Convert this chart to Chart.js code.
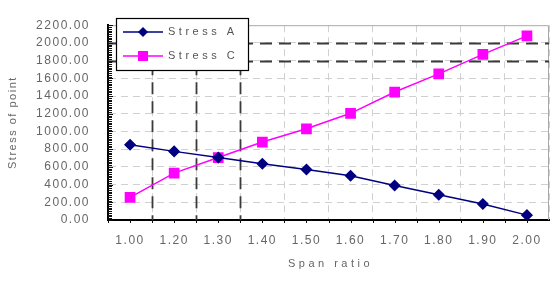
<!DOCTYPE html>
<html>
<head>
<meta charset="utf-8">
<script src="https://cdn.jsdelivr.net/npm/chart.js@4"></script>
<style>
  html, body { margin: 0; padding: 0; background: #fff; }
  #wrap { width: 559px; height: 291px; }
</style>
</head>
<body>
<div id="wrap"><canvas id="stressChart" width="559" height="291"></canvas></div>
<script>
// values
var spanLabels = ['1.00', '1.20', '1.30', '1.40', '1.50', '1.60', '1.70', '1.80', '1.90', '2.00'];
var stressA = [850, 775, 705, 635, 570, 500, 390, 285, 180, 55];
var stressC = [255, 530, 705, 880, 1030, 1205, 1445, 1650, 1870, 2080];
var refLevels = [2000, 1800];      // black dashed horizontal lines
var refGaps = [1, 2, 3];           // black dashed verticals, between category i-1 and i

var FONT = '"Liberation Sans", Arial, sans-serif';

// dashed reference lines, frame, small ticks (drawn under the data)
var framePlugin = {
  id: 'frame',
  beforeLayout: function (chart) {
    chart.ctx.letterSpacing = '1.5px';
  },
  beforeDatasetsDraw: function (chart) {
    var ctx = chart.ctx;
    var a = chart.chartArea;
    var x = chart.scales.x;
    var y = chart.scales.y;
    ctx.save();

    // gray top / right frame
    ctx.strokeStyle = '#a8a8a8';
    ctx.lineWidth = 1;
    ctx.beginPath();
    ctx.moveTo(a.left, a.top + 0.5);
    ctx.lineTo(a.right - 0.5, a.top + 0.5);
    ctx.lineTo(a.right - 0.5, a.bottom);
    ctx.stroke();

    // black dashed lines
    ctx.strokeStyle = '#3a3a3a';
    ctx.lineWidth = 1.8;
    ctx.setLineDash([12, 7]);
    refLevels.forEach(function (v) {
      var py = Math.round(y.getPixelForValue(v)) + 0.5;
      ctx.beginPath();
      ctx.moveTo(a.left, py);
      ctx.lineTo(a.right, py);
      ctx.stroke();
    });
    refGaps.forEach(function (i) {
      var px = Math.round((x.getPixelForValue(i - 1) + x.getPixelForValue(i)) / 2) + 0.5;
      ctx.beginPath();
      ctx.moveTo(px, a.top);
      ctx.lineTo(px, a.bottom);
      ctx.stroke();
    });
    ctx.setLineDash([]);

    // dense inward ticks on the value axis
    ctx.strokeStyle = '#111';
    ctx.lineWidth = 1;
    for (var v = 0; v <= 2200; v += 20) {
      var ty = Math.round(y.getPixelForValue(v)) + 0.5;
      var len = (v % 200 === 0) ? 5 : 4;
      ctx.beginPath();
      ctx.moveTo(a.left, ty);
      ctx.lineTo(a.left + len, ty);
      ctx.stroke();
    }
    // ticks under the category axis, at centres and boundaries
    var half = (x.getPixelForValue(1) - x.getPixelForValue(0)) / 2;
    for (var i = 0; i < spanLabels.length; i++) {
      var cx = x.getPixelForValue(i);
      [cx - half, cx].forEach(function (tx) {
        tx = Math.round(tx) + 0.5;
        ctx.beginPath();
        ctx.moveTo(tx, a.bottom);
        ctx.lineTo(tx, a.bottom + 3);
        ctx.stroke();
      });
    }
    ctx.restore();
  },
  afterDatasetsDraw: function (chart) {
    var ctx = chart.ctx;
    var a = chart.chartArea;
    ctx.save();

    // legend box inside the plot
    var bx = 116, by = 18, bw = 132, bh = 52;
    ctx.fillStyle = '#fff';
    ctx.fillRect(bx, by, bw, bh);
    ctx.strokeStyle = '#000';
    ctx.lineWidth = 1.2;
    ctx.strokeRect(bx + 0.5, by + 0.5, bw, bh);

    var items = chart.data.datasets;
    ctx.font = '11px ' + FONT;
    ctx.letterSpacing = '3.5px';
    ctx.textBaseline = 'middle';
    ctx.textAlign = 'left';
    items.forEach(function (ds, k) {
      var ly = by + 14 + k * 24;
      ctx.strokeStyle = ds.borderColor;
      ctx.lineWidth = 1.5;
      ctx.beginPath();
      ctx.moveTo(bx + 7, ly);
      ctx.lineTo(bx + 47, ly);
      ctx.stroke();
      ctx.fillStyle = ds.borderColor;
      if (ds.pointStyle === 'rectRot') {
        ctx.beginPath();
        ctx.moveTo(bx + 27, ly - 5);
        ctx.lineTo(bx + 32, ly);
        ctx.lineTo(bx + 27, ly + 5);
        ctx.lineTo(bx + 22, ly);
        ctx.closePath();
        ctx.fill();
      } else {
        ctx.fillRect(bx + 22, ly - 5, 10, 10);
      }
      ctx.fillStyle = '#555';
      ctx.fillText(ds.label, bx + 52, ly);
    });

    // x axis title
    ctx.textAlign = 'center';
    ctx.fillStyle = '#666';
    ctx.fillText('Span ratio', (a.left + a.right) / 2 + 2, 264);
    ctx.restore();
  }
};

var ctx = document.getElementById('stressChart').getContext('2d');
var stressChart = new Chart(ctx, {
  type: 'line',
  data: {
    labels: spanLabels,
    datasets: [{
      label: 'Stress A',
      data: stressA,
      borderColor: '#000080',
      backgroundColor: '#000080',
      borderWidth: 1.5,
      pointStyle: 'rectRot',
      pointRadius: 5,
      pointHoverRadius: 5,
      tension: 0
    },
    {
      label: 'Stress C',
      data: stressC,
      borderColor: '#ff00ff',
      backgroundColor: '#ff00ff',
      borderWidth: 1.5,
      pointStyle: 'rect',
      pointRadius: 6.5,
      pointHoverRadius: 6.5,
      tension: 0
    }]
  },
  options: {
    responsive: false,
    animation: false,
    devicePixelRatio: 1,
    layout: {
      padding: { left: 0, top: 12, right: 10, bottom: 0 }
    },
    plugins: {
      legend: { display: false },
      tooltip: { enabled: false }
    },
    scales: {
      x: {
        offset: true,
        afterFit: function (scale) { scale.height = 71; },
        grid: {
          offset: true,
          color: '#d0d0d0',
          lineWidth: 1,
          drawTicks: false
        },
        border: { color: '#000', width: 2, dash: [7, 5] },
        ticks: {
          color: '#666',
          font: { family: FONT, size: 12 },
          padding: 13,
          maxRotation: 0,
          autoSkip: false
        }
      },
      y: {
        min: 0,
        max: 2200,
        afterFit: function (scale) { scale.width = 108; },
        grid: {
          color: function (c) {
            return (c.tick && (c.tick.value === 0 || c.tick.value === 2200)) ? 'rgba(0,0,0,0)' : '#d0d0d0';
          },
          lineWidth: 1,
          drawTicks: false
        },
        border: { color: '#000', width: 2, dash: [7, 5] },
        ticks: {
          stepSize: 200,
          color: '#666',
          font: { family: FONT, size: 12 },
          padding: 18,
          callback: function (v) { return Number(v).toFixed(2); }
        },
        title: {
          display: true,
          text: 'Stress of point',
          color: '#666',
          font: { family: FONT, size: 11 },
          padding: { top: 6, bottom: 0 }
        }
      }
    }
  },
  plugins: [framePlugin]
});
</script>
</body>
</html>
